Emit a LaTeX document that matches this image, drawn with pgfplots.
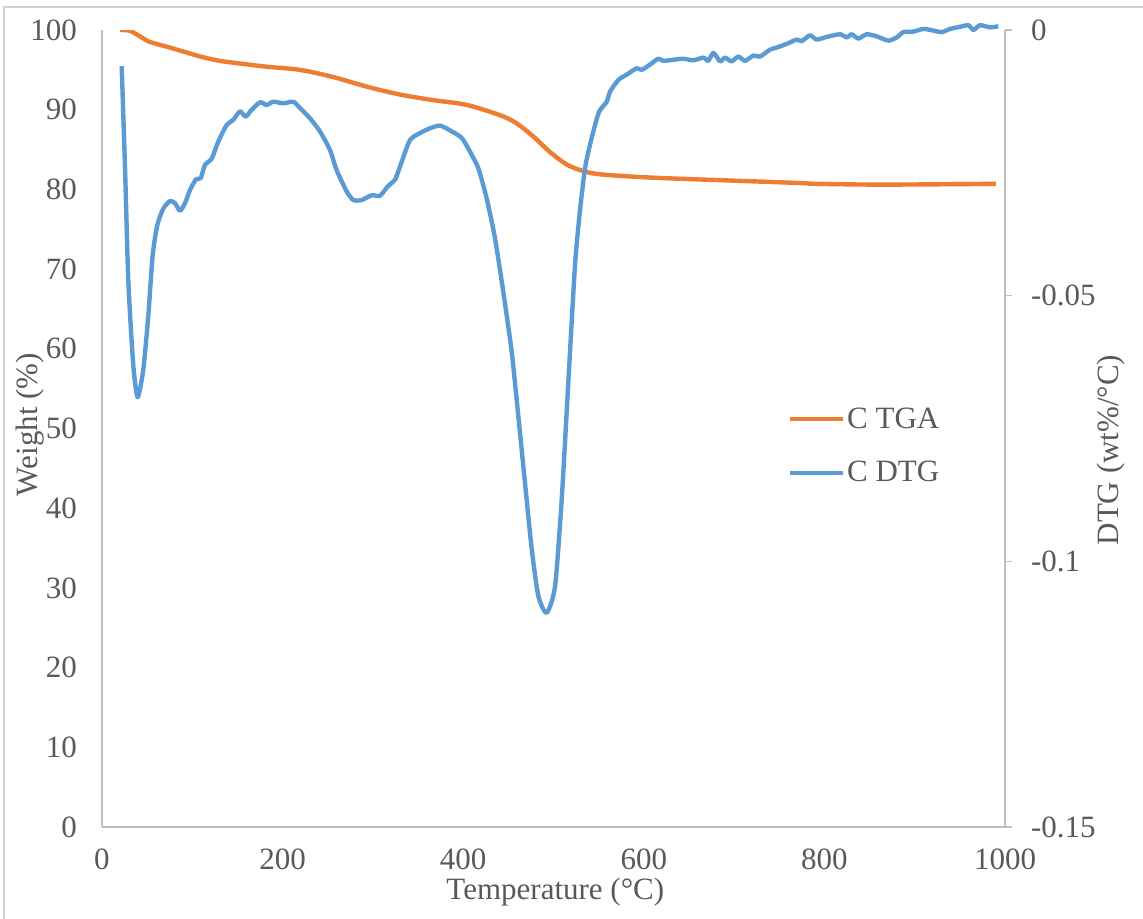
\documentclass[border=0pt]{standalone}
\usepackage{fontspec}
\setmainfont{Liberation Serif}
\usepackage{pgfplots}
\pgfplotsset{compat=1.18}
\definecolor{tga}{HTML}{ED7D31}
\definecolor{dtg}{HTML}{5B9BD5}
\definecolor{axgray}{HTML}{BFBFBF}
\definecolor{txt}{HTML}{595959}
\pgfplotsset{
  common/.style={
    scale only axis, width=451.5pt, height=398.5pt,
    xmin=0, xmax=1000,
    axis line style={axgray, line width=0.8pt},
    tick style={axgray, line width=0.8pt},
    ticklabel style={text=txt, font=\fontsize{15.5}{18}\selectfont},
    label style={text=txt, font=\fontsize{15.5}{18}\selectfont},
    /pgf/number format/assume math mode=true,
    /pgf/number format/1000 sep={},
  }
}
\begin{document}
\begin{tikzpicture}[font=\fontsize{15.5}{18}\selectfont]
\useasboundingbox (-51pt,-45.5pt) rectangle (520.5pt,413.5pt);
\draw[color=axgray!70, line width=0.6pt] (-49pt,-46pt) -- (-49pt,410pt) -- (521pt,410pt);
\begin{axis}[common,
  ymin=0, ymax=100,
  axis x line*=bottom, axis y line*=left,
  xtick={0,200,...,1000}, ytick={0,10,...,100},
  major tick length=0pt,
  xticklabel style={yshift=-10.5pt, inner sep=0pt},
  yticklabel style={xshift=-9pt},
  xlabel={Temperature (°C)},
  xlabel style={at={(rel axis cs:0.502,-0.081)}, anchor=center, inner sep=0pt},
  ylabel={Weight (\%)},
  ylabel style={at={(rel axis cs:-0.0797,0.505)}, anchor=center},
]
\addplot[tga, line width=2.2pt, smooth, line join=round] coordinates {
(20,100) (31,99.9) (42,99.2) (53,98.5) (72,97.9) (90,97.3) (108,96.7) (127,96.2)
(145,95.9) (182,95.4) (219,95.0) (256,94.1) (293,92.9) (330,91.9) (367,91.2)
(404,90.6) (441,89.3) (459,88.3) (478,86.6) (496,84.7) (515,83.1) (533,82.3)
(551,81.9) (588,81.6) (625,81.4) (699,81.1) (773,80.8) (791,80.7) (865,80.6) (990,80.7)
};
\end{axis}
\begin{axis}[common,
  ymin=-0.15, ymax=0,
  axis x line=none, axis y line*=right,
  ytick={-0.15,-0.1,-0.05,0},
  yticklabels={-0.15,-0.1,-0.05,0},
  tick align=outside, major tick length=3.5pt,
  yticklabel style={xshift=6pt},
  clip=false,
  ylabel={DTG (wt\%/°C)},
  ylabel style={at={(rel axis cs:1.117,0.473)}, anchor=center},
  legend style={draw=none, fill=none, at={(rel axis cs:0.759,0.478)}, anchor=west,
    inner sep=0pt, row sep=13pt, nodes={text=txt, inner sep=1pt},
    font=\fontsize{15.5}{18}\selectfont},
  legend cell align=left,
  legend image code/.code={\draw[#1, line width=2.2pt] (0pt,0pt) -- (26.5pt,0pt);},
]
\addlegendimage{tga}
\addlegendentry{C TGA}
\addplot[dtg, line width=2.2pt, smooth, tension=0.4, line join=round] coordinates {
(21.8,-0.0068) (25.5,-0.026) (29.2,-0.0474) (34.7,-0.0632) (39.5,-0.0691) (45.8,-0.0638)
(51.3,-0.0537) (56.1,-0.0424) (61.3,-0.0367) (67.9,-0.0336) (75.3,-0.0322) (80.8,-0.0326)
(86.4,-0.0340) (91.9,-0.0326) (97.5,-0.0301) (104.1,-0.0281) (109.3,-0.0279) (114,-0.0254)
(121.5,-0.0242) (128.8,-0.0210) (138,-0.0179) (145.4,-0.0169) (152.8,-0.0153) (159,-0.0163)
(165.8,-0.0150) (175,-0.0136) (182.4,-0.0141) (189.7,-0.0135) (200.8,-0.0138) (211.9,-0.0135)
(219.3,-0.0147) (230.3,-0.0166) (241.4,-0.0191) (252.5,-0.0226) (259.9,-0.0264) (271,-0.0304)
(278.3,-0.0320) (287.6,-0.0320) (298.7,-0.0311) (307.9,-0.0312) (317.1,-0.0293) (324.5,-0.0282)
(331.9,-0.0248) (341.1,-0.0207) (352.2,-0.0194) (363.2,-0.0185) (374.3,-0.0180) (385.4,-0.0189)
(398.3,-0.0203) (407.5,-0.0229) (416.7,-0.0260) (426,-0.0317) (435.2,-0.0392) (444.4,-0.0493)
(453.7,-0.0606) (461,-0.0726) (468.4,-0.0852) (475.9,-0.0977) (483.2,-0.1065) (492.4,-0.1097)
(501.7,-0.1047) (509.1,-0.0883) (516.4,-0.0663) (523.8,-0.0443) (529.3,-0.0340) (534.9,-0.0260)
(540.4,-0.0216) (546,-0.0179) (550.7,-0.0153) (558.9,-0.0135) (562.6,-0.0116) (571.8,-0.0094)
(581,-0.0084) (592.1,-0.0072) (597.7,-0.0075) (606.9,-0.0065) (616.1,-0.0054) (621.6,-0.0058)
(632.7,-0.0056) (643.7,-0.0054) (654.8,-0.0057) (665.9,-0.0052) (671.4,-0.0058) (677,-0.0043)
(684.4,-0.0059) (689.9,-0.0052) (697.3,-0.0059) (704.7,-0.0050) (712.1,-0.0058) (721.3,-0.0048)
(728.7,-0.0050) (739.8,-0.0037) (747.2,-0.0033) (758.3,-0.0026) (769.3,-0.0018) (774.8,-0.0021)
(784,-0.0010) (791.4,-0.0018) (802.5,-0.0013) (817.3,-0.0008) (824.7,-0.0014) (830.2,-0.0008)
(837.6,-0.0016) (846.8,-0.0008) (857.9,-0.0012) (870.8,-0.0020) (880,-0.0014) (887.4,-0.0004)
(898.4,-0.0003) (909.5,0.0002) (920.6,-0.0001) (929.9,-0.0004) (939.1,0.0002) (950.2,0.0006)
(959.4,0.0009) (965,0.0000) (972.3,0.0009) (983.4,0.0005) (992.6,0.0007)
};
\addlegendentry{C DTG}
\end{axis}
\end{tikzpicture}
\end{document}
